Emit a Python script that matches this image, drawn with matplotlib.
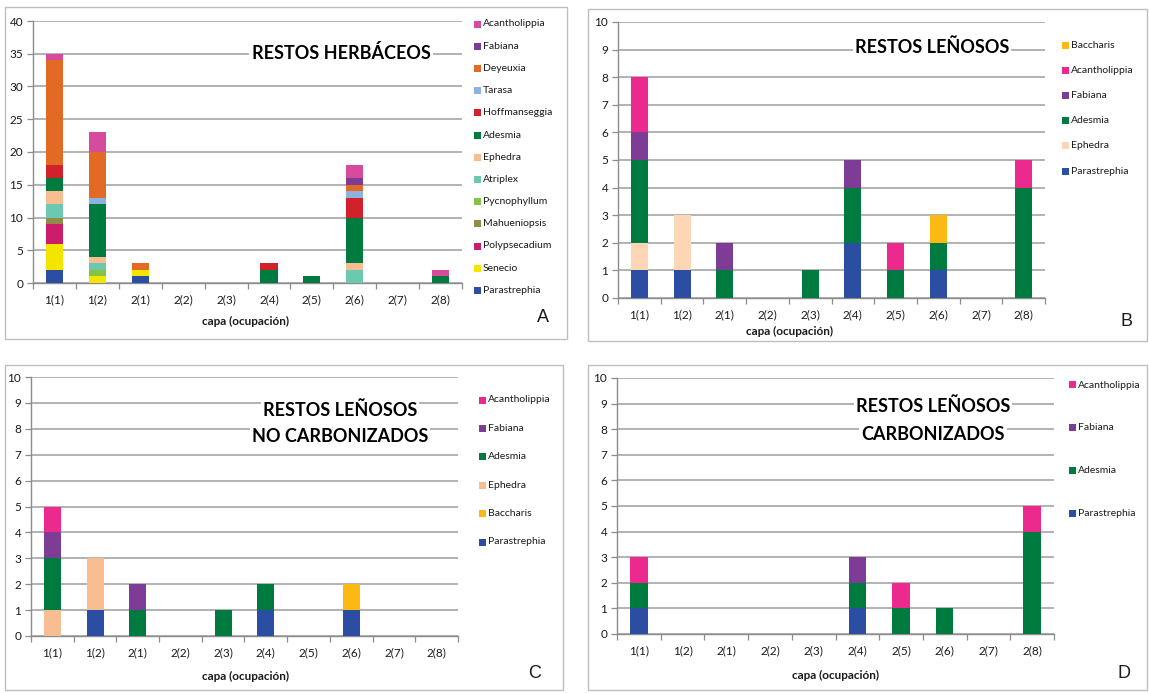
import matplotlib
matplotlib.use("Agg")
import matplotlib.pyplot as plt
from matplotlib.patches import Rectangle
import numpy as np

W, H = 1149, 693
plt.rcParams['font.family'] = ['Lato', 'DejaVu Sans']

capas = ['1(1)', '1(2)', '2(1)', '2(2)', '2(3)', '2(4)', '2(5)', '2(6)', '2(7)', '2(8)']

colores = {
    'Parastrephia': '#2B4EA2',
    'Senecio': '#F4E500',
    'Polypsecadium': '#CB1D6B',
    'Mahueniopsis': '#918B47',
    'Pycnophyllum': '#85C342',
    'Atriplex': '#6CC8B1',
    'Ephedra': '#F8BD90',
    'Adesmia': '#007B3F',
    'Hoffmanseggia': '#D1222B',
    'Tarasa': '#8DB2E0',
    'Deyeuxia': '#E36A25',
    'Fabiana': '#7D3C96',
    'Acantholippia': '#D74B9C',
    'Baccharis': '#FDB913',
}
color_acanth_lenosos = '#EC2A8D'
color_ephedra_lenosos = '#FDD6B6'

# A: restos herbáceos (orden de apilado, de abajo hacia arriba)
herb_taxa = ['Parastrephia', 'Senecio', 'Polypsecadium', 'Mahueniopsis', 'Pycnophyllum',
             'Atriplex', 'Ephedra', 'Adesmia', 'Hoffmanseggia', 'Tarasa', 'Deyeuxia',
             'Fabiana', 'Acantholippia']
herb_conteos = [
    [2, 0, 1, 0, 0, 0, 0, 0, 0, 0],   # Parastrephia
    [4, 1, 1, 0, 0, 0, 0, 0, 0, 0],   # Senecio
    [3, 0, 0, 0, 0, 0, 0, 0, 0, 0],   # Polypsecadium
    [1, 0, 0, 0, 0, 0, 0, 0, 0, 0],   # Mahueniopsis
    [0, 1, 0, 0, 0, 0, 0, 0, 0, 0],   # Pycnophyllum
    [2, 1, 0, 0, 0, 0, 0, 2, 0, 0],   # Atriplex
    [2, 1, 0, 0, 0, 0, 0, 1, 0, 0],   # Ephedra
    [2, 8, 0, 0, 0, 2, 1, 7, 0, 1],   # Adesmia
    [2, 0, 0, 0, 0, 1, 0, 3, 0, 0],   # Hoffmanseggia
    [0, 1, 0, 0, 0, 0, 0, 1, 0, 0],   # Tarasa
    [16, 7, 1, 0, 0, 0, 0, 1, 0, 0],  # Deyeuxia
    [0, 0, 0, 0, 0, 0, 0, 1, 0, 0],   # Fabiana
    [1, 3, 0, 0, 0, 0, 0, 2, 0, 1],   # Acantholippia
]

# B: restos leñosos
len_taxa = ['Parastrephia', 'Ephedra', 'Adesmia', 'Fabiana', 'Acantholippia', 'Baccharis']
len_conteos = [
    [1, 1, 0, 0, 0, 2, 0, 1, 0, 0],   # Parastrephia
    [1, 2, 0, 0, 0, 0, 0, 0, 0, 0],   # Ephedra
    [3, 0, 1, 0, 1, 2, 1, 1, 0, 4],   # Adesmia
    [1, 0, 1, 0, 0, 1, 0, 0, 0, 0],   # Fabiana
    [2, 0, 0, 0, 0, 0, 1, 0, 0, 1],   # Acantholippia
    [0, 0, 0, 0, 0, 0, 0, 1, 0, 0],   # Baccharis
]

# C: restos leñosos no carbonizados
nocarb_taxa = ['Parastrephia', 'Baccharis', 'Ephedra', 'Adesmia', 'Fabiana', 'Acantholippia']
nocarb_conteos = [
    [0, 1, 0, 0, 0, 1, 0, 1, 0, 0],   # Parastrephia
    [0, 0, 0, 0, 0, 0, 0, 1, 0, 0],   # Baccharis
    [1, 2, 0, 0, 0, 0, 0, 0, 0, 0],   # Ephedra
    [2, 0, 1, 0, 1, 1, 0, 0, 0, 0],   # Adesmia
    [1, 0, 1, 0, 0, 0, 0, 0, 0, 0],   # Fabiana
    [1, 0, 0, 0, 0, 0, 0, 0, 0, 0],   # Acantholippia
]

# D: restos leñosos carbonizados
carb_taxa = ['Parastrephia', 'Adesmia', 'Fabiana', 'Acantholippia']
carb_conteos = [
    [1, 0, 0, 0, 0, 1, 0, 0, 0, 0],   # Parastrephia
    [1, 0, 0, 0, 0, 1, 1, 1, 0, 4],   # Adesmia
    [0, 0, 0, 0, 0, 1, 0, 0, 0, 0],   # Fabiana
    [1, 0, 0, 0, 0, 0, 1, 0, 0, 1],   # Acantholippia
]

GRID = '#A6A6A6'
SPINE = '#8C8C8C'
TXT = '#1A1A1A'

fig = plt.figure(figsize=(W / 100, H / 100), dpi=100)
fig.patch.set_facecolor('white')


def fx(x):
    return x / W


def fy(y):
    return 1 - y / H


def marco(x0, y0, x1, y1):
    fig.patches.append(Rectangle((fx(x0), fy(y1)), fx(x1) - fx(x0), fy(y0) - fy(y1),
                                 transform=fig.transFigure, fill=False,
                                 edgecolor='#BFBFBF', linewidth=1.0))


def panel(caja, ymax, ypaso, taxa, conteos, paleta, titulo, tit_xy, tit_dy,
          ley_x, ley_y0, ley_dy, letra, letra_xy, xlab_xy):
    x0, y0, x1, y1 = caja
    ax = fig.add_axes([fx(x0), fy(y1), fx(x1) - fx(x0), fy(y0) - fy(y1)])
    pos = np.arange(len(capas))
    base = np.zeros(len(capas))
    for nombre, vals in zip(taxa, conteos):
        vals = np.array(vals, dtype=float)
        ax.bar(pos, vals, width=0.4, bottom=base, color=paleta[nombre],
               edgecolor='none', zorder=3)
        base += vals
    ax.set_xlim(-0.5, len(capas) - 0.5)
    ax.set_ylim(0, ymax)
    ax.set_yticks(np.arange(0, ymax + 0.01, ypaso))
    ax.set_xticks(pos)
    ax.set_xticklabels(capas)
    ax.set_xticks(np.arange(-0.5, len(capas), 1), minor=True)
    ax.tick_params(axis='x', which='major', length=0, pad=8, labelsize=8.5, labelcolor=TXT)
    ax.tick_params(axis='x', which='minor', length=4, width=0.9, color=SPINE, direction='out')
    ax.tick_params(axis='y', length=4, width=0.9, color=SPINE, direction='out',
                   labelsize=8.5, labelcolor=TXT, pad=3)
    ax.yaxis.grid(True, color=GRID, linewidth=1.2, zorder=0)
    ax.set_axisbelow(True)
    for s in ('top', 'right'):
        ax.spines[s].set_visible(False)
    for s in ('left', 'bottom'):
        ax.spines[s].set_color(SPINE)
        ax.spines[s].set_linewidth(1.0)
    ax.set_facecolor('none')

    # título sobre la grilla
    tx, ty = tit_xy
    for i, linea in enumerate(titulo):
        fig.text(fx(tx), fy(ty + i * tit_dy), linea, ha='center', va='center',
                 fontsize=13, fontweight='bold', color='black', zorder=5,
                 bbox=dict(facecolor='white', edgecolor='none', pad=1.5))

    # leyenda (de arriba hacia abajo, orden inverso al apilado)
    for i, nombre in enumerate(reversed(taxa)):
        yy = ley_y0 + i * ley_dy
        fig.patches.append(Rectangle((fx(ley_x - 3.5), fy(yy + 3.5)), fx(7), 7 / H,
                                     transform=fig.transFigure,
                                     facecolor=paleta[nombre], edgecolor='none'))
        fig.text(fx(ley_x + 6), fy(yy), nombre, ha='left', va='center',
                 fontsize=7.5, color=TXT)

    fig.text(fx(xlab_xy[0]), fy(xlab_xy[1]), 'capa (ocupación)', ha='center', va='center',
             fontsize=8.5, fontweight='bold', color=TXT)
    fig.text(fx(letra_xy[0]), fy(letra_xy[1]), letra, ha='center', va='center',
             fontsize=13, color=TXT, family=['Liberation Sans', 'DejaVu Sans'])
    return ax


pal_herb = dict(colores)
pal_len = dict(colores)
pal_len['Acantholippia'] = color_acanth_lenosos
pal_len['Ephedra'] = color_ephedra_lenosos
pal_nocarb = dict(pal_len)
pal_nocarb['Ephedra'] = colores['Ephedra']

marco(5, 7, 567, 339)
marco(588, 9, 1147, 341)
marco(5, 365, 563, 690)
marco(588, 365, 1147, 690)

panel((33, 21, 462, 283), 40, 5, herb_taxa, herb_conteos, pal_herb,
      ['RESTOS HERBÁCEOS'], (341, 53), 0,
      477, 24, 22.2, 'A', (543, 318), (245, 321))

panel((618, 22, 1045, 298), 10, 1, len_taxa, len_conteos, pal_len,
      ['RESTOS LEÑOSOS'], (932, 47), 0,
      1065, 45, 25.2, 'B', (1127, 321), (790, 331))

panel((31, 377, 458, 636), 10, 1, nocarb_taxa, nocarb_conteos, pal_nocarb,
      ['RESTOS LEÑOSOS', 'NO CARBONIZADOS'], (340, 410), 27,
      482, 400, 28.4, 'C', (535, 673), (245, 676))

panel((617, 378, 1054, 634), 10, 1, carb_taxa, carb_conteos, pal_len,
      ['RESTOS LEÑOSOS', 'CARBONIZADOS'], (933, 406), 28,
      1072, 385, 42.7, 'D', (1124, 674), (835, 675))

fig.savefig('out.png', dpi=100, facecolor='white')
